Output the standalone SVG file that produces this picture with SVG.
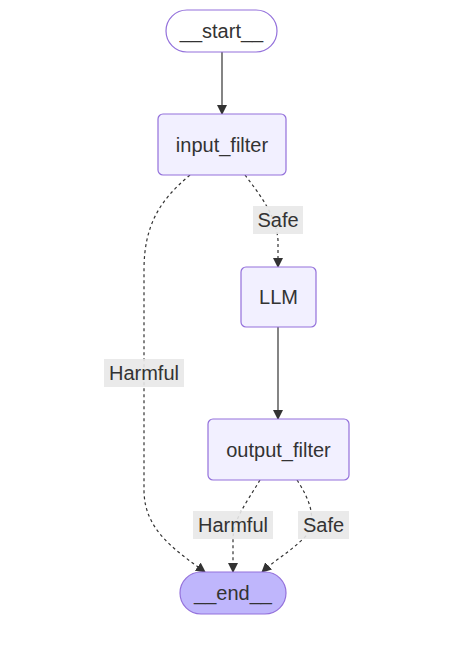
<svg xmlns="http://www.w3.org/2000/svg" width="470" height="654" viewBox="0 0 470 654">
<style>
.node rect{fill:#f2f0ff;stroke:#9370db;stroke-width:1.2}
#start rect{fill:#ffffff}
#end rect{fill:#bfb6fc}
text{font-family:"Liberation Sans",Arial,sans-serif;font-size:20px;fill:#333;text-anchor:middle;dominant-baseline:central}
.edge{fill:none;stroke:#333;stroke-width:1.2}
.dash{stroke-dasharray:3 3}
.lbl rect{fill:#e8e8e8;fill-opacity:0.9}
</style>
<defs>
<marker id="arr" viewBox="0 0 10 10" refX="9" refY="5" markerWidth="10" markerHeight="10" markerUnits="userSpaceOnUse" orient="auto">
<path d="M0,0 L10,5 L0,10 z" fill="#333"/>
</marker>
</defs>
<g id="connectors">
<path class="edge" d="M222,52 L222,114" marker-end="url(#arr)"/>
<path class="edge dash" d="M190,175 C160,200 144,225 144,270 L144,490 C144,530 175,550 205,572" marker-end="url(#arr)"/>
<path class="edge dash" d="M245,175 C260,195 276,215 278,240 L278,267" marker-end="url(#arr)"/>
<path class="edge" d="M278,327 L278,419" marker-end="url(#arr)"/>
<path class="edge dash" d="M260,480 C245,505 233,520 233,540 L233,572" marker-end="url(#arr)"/>
<path class="edge dash" d="M297,480 C310,500 318,520 305,537 C290,552 275,560 262,572" marker-end="url(#arr)"/>
</g>
<g id="labels">
<g class="lbl"><rect x="253" y="206" width="50" height="28"/><text x="278" y="220">Safe</text></g>
<g class="lbl"><rect x="104" y="359" width="80" height="28"/><text x="144" y="373">Harmful</text></g>
<g class="lbl"><rect x="193" y="511" width="80" height="28"/><text x="233" y="525">Harmful</text></g>
<g class="lbl"><rect x="298" y="511" width="51" height="28"/><text x="323.5" y="525">Safe</text></g>
</g>
<g id="start" class="node"><rect x="166" y="10" width="111" height="42" rx="21"/><text x="221.5" y="31">__start__</text></g>
<g id="input_filter" class="node"><rect x="158" y="114" width="128" height="61" rx="5"/><text x="222" y="144.5">input_filter</text></g>
<g id="LLM" class="node"><rect x="241" y="267" width="75" height="60" rx="5"/><text x="278.5" y="297">LLM</text></g>
<g id="output_filter" class="node"><rect x="208" y="419" width="141" height="61" rx="5"/><text x="278.5" y="449.5">output_filter</text></g>
<g id="end" class="node"><rect x="180" y="572" width="106" height="42" rx="21"/><text x="233" y="593">__end__</text></g>
</svg>
